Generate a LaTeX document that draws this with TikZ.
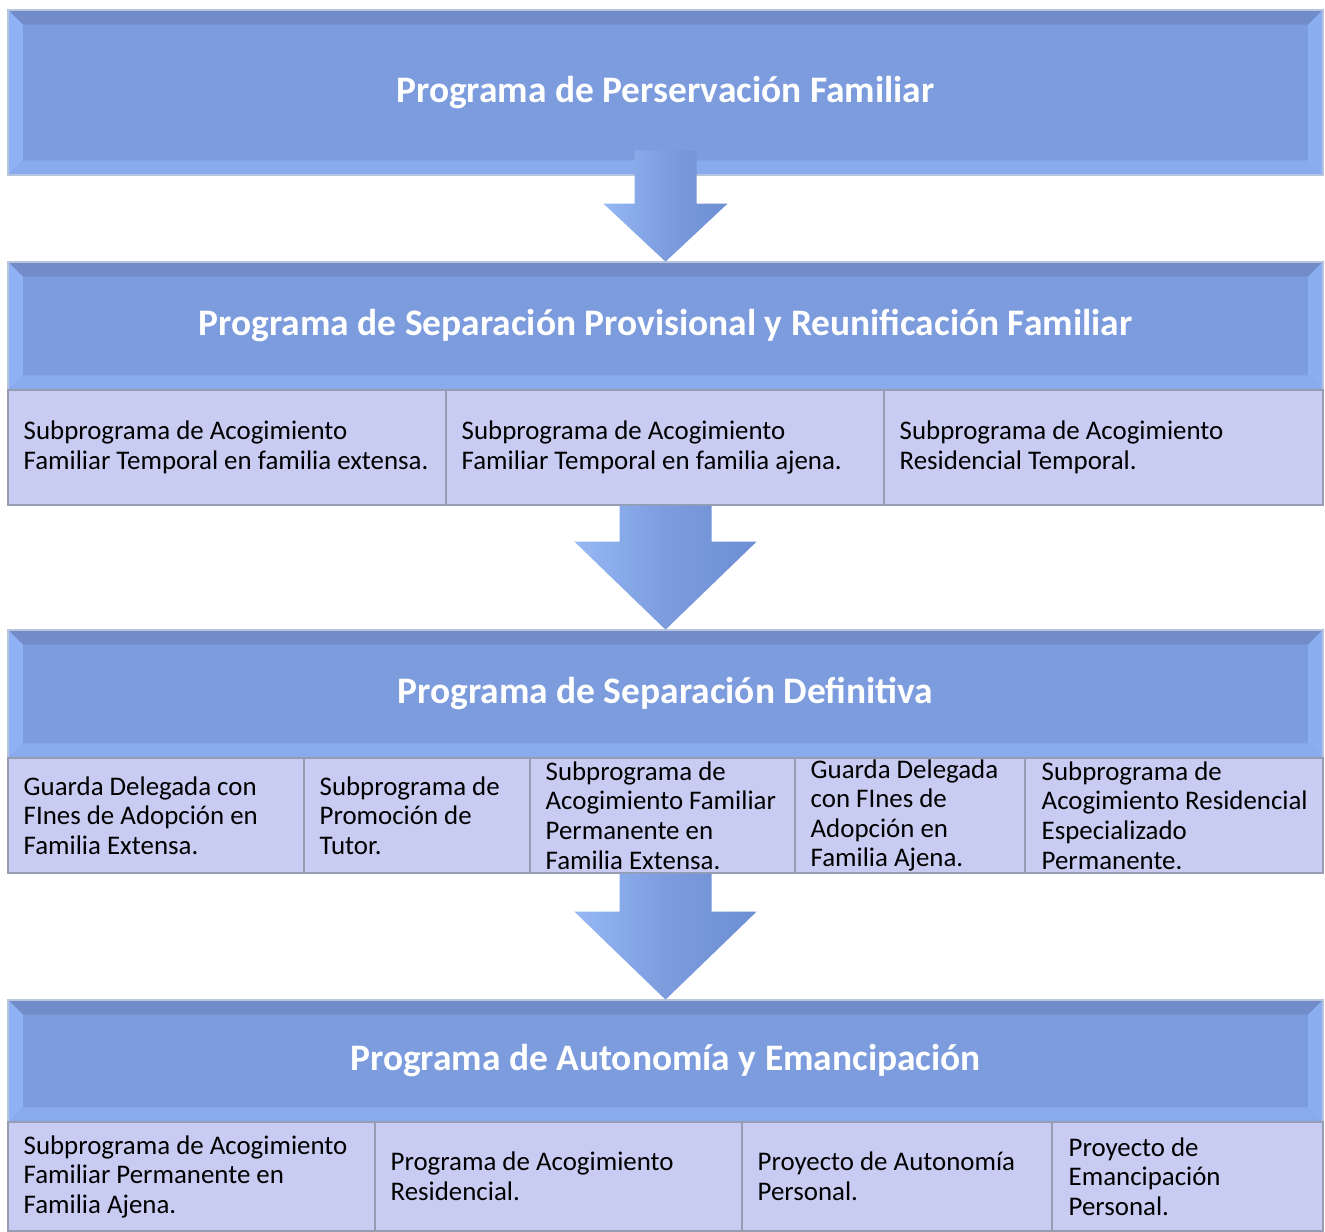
\documentclass[tikz,border=0pt]{standalone}
\usepackage{fontspec}
\setmainfont{Carlito}
\usetikzlibrary{calc}
\definecolor{hdrblue}{RGB}{124,156,222}
\definecolor{hdrdark}{RGB}{114,140,202}
\definecolor{hdrlight}{RGB}{142,178,244}
\definecolor{hdrline}{RGB}{184,196,222}
\definecolor{subfill}{RGB}{200,204,242}
\definecolor{subline}{RGB}{150,156,178}
\definecolor{arrowlight}{RGB}{150,184,244}
\definecolor{arrowdark}{RGB}{110,142,212}

\tikzset{
  header/.style={fill=hdrblue, minimum width=26.3cm, text=white, font=\fontsize{21.3}{25}\selectfont\bfseries},
  cell/.style={draw=subline, line width=0.8pt, fill=subfill},
  celltext/.style={anchor=west, align=left, inner sep=0pt, font=\fontsize{15.3}{16.8}\selectfont},
  flow/.style={left color=arrowlight, right color=arrowdark, middle color=hdrblue}
}

% bevelled edges of a header box
\newcommand{\bevel}[2]{%
  \fill[hdrdark] (#1.north west) -- (#1.north east) -- ([shift={(-#2,#2)}]#1.north east) -- ([shift={(#2,#2)}]#1.north west) -- cycle;
  \fill[hdrlight] (#1.north west) -- ([shift={(#2,#2)}]#1.north west) -- ([shift={(#2,-#2)}]#1.south west) -- (#1.south west) -- cycle;
  \fill[hdrlight!70!hdrblue] (#1.south west) -- ([shift={(#2,-#2)}]#1.south west) -- ([shift={(-#2,-#2)}]#1.south east) -- (#1.south east) -- cycle;
  \fill[hdrlight!80!hdrblue] (#1.north east) -- ([shift={(-#2,#2)}]#1.north east) -- ([shift={(-#2,-#2)}]#1.south east) -- (#1.south east) -- cycle;
  \draw[hdrline, line width=1pt] (#1.north west) rectangle (#1.south east);}

% block arrow from a top point down to a tip
\newcommand{\flowarrow}[5]{%
  \path[flow] ($(#1)+(-#3,0)$) -- ($(#2)+(-#3,-#5)$) -- ($(#2)+(-#4,-#5)$) -- (#2)
    -- ($(#2)+(#4,-#5)$) -- ($(#2)+(#3,-#5)$) -- ($(#1)+(#3,0)$) -- cycle;}

\begin{document}
\begin{tikzpicture}[x=0.02cm, y=-0.02cm]
    \useasboundingbox[fill=white] (0,0) rectangle (1325,1231);

    % programas
    \node[header, minimum height=3.3cm] (perserv) at (665.5,92.5) {Programa de Perservación Familiar};
    \node[header, minimum height=2.56cm] (provis) at (665.5,326) {Programa de Separación Provisional y Reunificación Familiar};
    \node[header, minimum height=2.56cm] (definit) at (665.5,694) {Programa de Separación Definitiva};
    \node[header, minimum height=2.44cm] (autonom) at (665.5,1061) {Programa de Autonomía y Emancipación};
    \bevel{perserv}{15}
    \bevel{provis}{15}
    \bevel{definit}{15}
    \bevel{autonom}{15}

    % separacion provisional
    \node[cell, minimum width=8.76cm, minimum height=2.3cm] (prov1) at (227,447.5) {};
    \node[cell, minimum width=8.76cm, minimum height=2.3cm] (prov2) at (665,447.5) {};
    \node[cell, minimum width=8.78cm, minimum height=2.3cm] (prov3) at (1103.5,447.5) {};
    \node[celltext] (prov1t) at ([xshift=0.32cm]prov1.west) {Subprograma de Acogimiento\\Familiar Temporal en familia extensa.};
    \node[celltext] (prov2t) at ([xshift=0.32cm]prov2.west) {Subprograma de Acogimiento\\Familiar Temporal en familia ajena.};
    \node[celltext] (prov3t) at ([xshift=0.32cm]prov3.west) {Subprograma de Acogimiento\\Residencial Temporal.};

    % separacion definitiva
    \node[cell, minimum width=5.92cm, minimum height=2.3cm] (def1) at (156,815.5) {};
    \node[cell, minimum width=4.52cm, minimum height=2.3cm] (def2) at (417,815.5) {};
    \node[cell, minimum width=5.3cm, minimum height=2.3cm] (def3) at (662.5,815.5) {};
    \node[cell, minimum width=4.6cm, minimum height=2.3cm] (def4) at (910,815.5) {};
    \node[cell, minimum width=5.96cm, minimum height=2.3cm] (def5) at (1174,815.5) {};
    \node[celltext] (def1t) at ([xshift=0.32cm]def1.west) {Guarda Delegada con\\FInes de Adopción en\\Familia Extensa.};
    \node[celltext] (def2t) at ([xshift=0.32cm]def2.west) {Subprograma de\\Promoción de\\Tutor.};
    \node[celltext] (def3t) at ([xshift=0.32cm]def3.west) {Subprograma de\\Acogimiento Familiar\\Permanente en\\Familia Extensa.};
    \node[celltext] (def4t) at ([xshift=0.32cm]def4.west) {Guarda Delegada\\con FInes de\\Adopción en\\Familia Ajena.};
    \node[celltext] (def5t) at ([xshift=0.34cm]def5.west) {Subprograma de\\Acogimiento Residencial\\Especializado\\Permanente.};

    % autonomia
    \node[cell, minimum width=7.34cm, minimum height=2.18cm] (aut1) at (191.5,1176.5) {};
    \node[cell, minimum width=7.34cm, minimum height=2.18cm] (aut2) at (558.5,1176.5) {};
    \node[cell, minimum width=6.2cm, minimum height=2.18cm] (aut3) at (897,1176.5) {};
    \node[cell, minimum width=5.42cm, minimum height=2.18cm] (aut4) at (1187.5,1176.5) {};
    \node[celltext] (aut1t) at ([xshift=0.32cm]aut1.west) {Subprograma de Acogimiento\\Familiar Permanente en\\Familia Ajena.};
    \node[celltext] (aut2t) at ([xshift=0.32cm]aut2.west) {Programa de Acogimiento\\Residencial.};
    \node[celltext] (aut3t) at ([xshift=0.32cm]aut3.west) {Proyecto de Autonomía\\Personal.};
    \node[celltext] (aut4t) at ([xshift=0.34cm]aut4.west) {Proyecto de\\Emancipación\\Personal.};

    % flechas
    \coordinate (top1) at ([yshift=0.5cm]perserv.south);
    \coordinate (top2) at (provis.north |- prov2.south);
    \coordinate (top3) at (autonom.north |- def3.south);
    \flowarrow{top1}{provis.north}{31}{62}{58}
    \flowarrow{top2}{definit.north}{46}{91}{88}
    \flowarrow{top3}{autonom.north}{46}{91}{88}
\end{tikzpicture}
\end{document}
